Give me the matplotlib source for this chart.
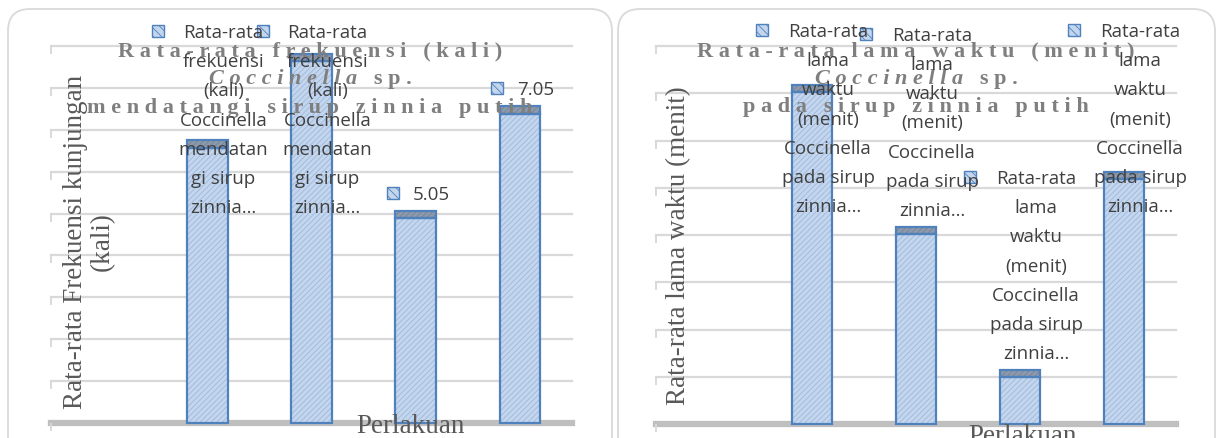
import matplotlib.pyplot as plt
from matplotlib.patches import FancyBboxPatch, Rectangle
from matplotlib.markers import TICKDOWN
import numpy as np

W, H = 1222, 439

# perlakuan 1-4 (slot 0 kosong)
perlakuan = [1, 2, 3, 4]
frekuensi = [6.4, 8.05, 5.05, 7.05]      # rata-rata frekuensi kunjungan (kali)
lama_waktu = [7.17, 4.17, 1.14, 5.33]    # rata-rata lama waktu (menit)

frek_grid = np.arange(1.0, 8.21, 0.8)
waktu_grid = np.arange(0, 9, 1)

nama_frek = ["Rata-rata", "frekuensi", "(kali)", "Coccinella",
             "mendatan", "gi sirup", "zinnia\u2026"]
nama_waktu = ["Rata-rata", "lama", "waktu", "(menit)", "Coccinella",
              "pada sirup", "zinnia\u2026"]
label_frek = [nama_frek, nama_frek,
              [f"{frekuensi[2]:.2f}"], [f"{frekuensi[3]:.2f}"]]
label_waktu = [nama_waktu] * 4

BAR_FC = '#c3d6ee'
HATCH = '#9fb8da'
EDGE = '#4f81bd'
CAP_FC = '#8e9aab'
GRID = '#d9d9d9'
BASE = '#bfbfbf'
TITLE = '#7f7f7f'
AXTXT = '#595959'
LBL = dict(family='Open Sans', fontsize=13.5, color='#404040')
LINE = 29.2

plt.rcParams['hatch.linewidth'] = 0.6

fig = plt.figure(figsize=(W / 100, H / 100), dpi=100)


def panel(left, right, bottom, top, values, grid, cap):
    ax = fig.add_axes([left / W, (H - bottom) / H, (right - left) / W,
                       (bottom - top) / H])
    ax.set_xlim(-0.5, 4.5)
    ax.set_ylim(grid[0], grid[-1])
    ax.axis('off')
    for g in grid[1:]:
        ax.axhline(g, color=GRID, lw=1.6, zorder=1, clip_on=False)
    ax.axhline(grid[0], color=BASE, lw=4.5, zorder=1, clip_on=False)
    ax.plot(np.full(len(grid), -0.5), grid, ls='none', marker=TICKDOWN,
            ms=6, mew=1.4, color=GRID, clip_on=False)
    base = grid[0]
    vals = np.array(values)
    body = vals - cap - base
    ax.bar(perlakuan, body, 0.39, bottom=base, color=BAR_FC, edgecolor=HATCH,
           hatch='//////', lw=0, zorder=2, clip_on=False)
    ax.bar(perlakuan, cap, 0.39, bottom=vals - cap, color=CAP_FC,
           edgecolor='#75849a', hatch='//////', lw=0, zorder=2)
    ax.bar(perlakuan, body, 0.39, bottom=base, fill=False, edgecolor=EDGE,
           lw=1.6, zorder=3, clip_on=False)
    ax.bar(perlakuan, cap, 0.39, bottom=vals - cap, fill=False,
           edgecolor=EDGE, lw=1.6, zorder=3)
    return ax


ax1 = panel(51, 572, 424, 47, frekuensi, frek_grid, 0.14)
ax2 = panel(656, 1176, 425, 47, lama_waktu, waktu_grid, 0.15)

# lapisan atas dalam koordinat piksel
ov = fig.add_axes([0, 0, 1, 1])
ov.set_xlim(0, W)
ov.set_ylim(H, 0)
ov.axis('off')
rend = fig.canvas.get_renderer()

for x0, w in [(8, 604), (618, 597)]:
    ov.add_patch(FancyBboxPatch((x0, 10), w, 470,
                                boxstyle='round,pad=0,rounding_size=22',
                                fc='none', ec=GRID, lw=1.3))


def spaced(s):
    return " ".join(s)


def judul(cx, baris1, miring, sisa, baris3, ys):
    kw = dict(family='Liberation Serif', weight='bold', color=TITLE,
              fontsize=16, va='baseline')
    ov.text(cx, ys[0], spaced(baris1), ha='center', **kw)
    t1 = ov.text(0, ys[1], spaced(miring), ha='left', style='italic', **kw)
    t2 = ov.text(0, ys[1], "   " + spaced(sisa), ha='left', **kw)
    w1 = t1.get_window_extent(rend).width
    w2 = t2.get_window_extent(rend).width
    xs = cx - (w1 + w2) / 2
    t1.set_x(xs)
    t2.set_x(xs + w1)
    ov.text(cx, ys[2], spaced(baris3), ha='center', **kw)


judul(310, "Rata-rata frekuensi (kali)", "Coccinella", "sp.",
      "mendatangi sirup zinnia putih", (56, 84, 113))
judul(916, "Rata-rata lama waktu (menit)", "Coccinella", "sp.",
      "pada sirup zinnia putih", (56, 84, 112))


def px(ax, x, y):
    xd, yd = ax.transData.transform((x, y))
    return xd, H - yd


def data_labels(ax, values, labels, top_min):
    for x, v, lines in zip(perlakuan, values, labels):
        cx, top = px(ax, x, v)
        first = max(top - 18 - (len(lines) - 1) * LINE, top_min)
        tx = cx + 16
        widths = []
        for i, s in enumerate(lines):
            t = ov.text(tx, first + i * LINE + 6, s, ha='center',
                        va='baseline', **LBL)
            widths.append(t.get_window_extent(rend).width)
        kx = tx - max(widths) / 2 - 14 - 12
        ov.add_patch(Rectangle((kx, first - 6), 12, 12, fc=BAR_FC, ec=EDGE,
                               hatch='\\\\\\\\', lw=1.0))


data_labels(ax1, frekuensi, label_frek, 32)
data_labels(ax2, lama_waktu, label_waktu, 31)

serif = dict(family='Liberation Serif', fontsize=19.5, color=AXTXT)
ov.text(89, 242, "Rata-rata Frekuensi kunjungan\n(kali)", rotation=90,
        ha='center', va='center', multialignment='center', linespacing=1.1,
        **serif)
ov.text(679, 246, "Rata-rata lama waktu (menit)", rotation=90,
        ha='center', va='center', **serif)
ov.text(410, 433, "Perlakuan", ha='center', va='baseline', **serif)
ov.text(1022, 443, "Perlakuan", ha='center', va='baseline', **serif)

fig.savefig('out.png', dpi=100)
